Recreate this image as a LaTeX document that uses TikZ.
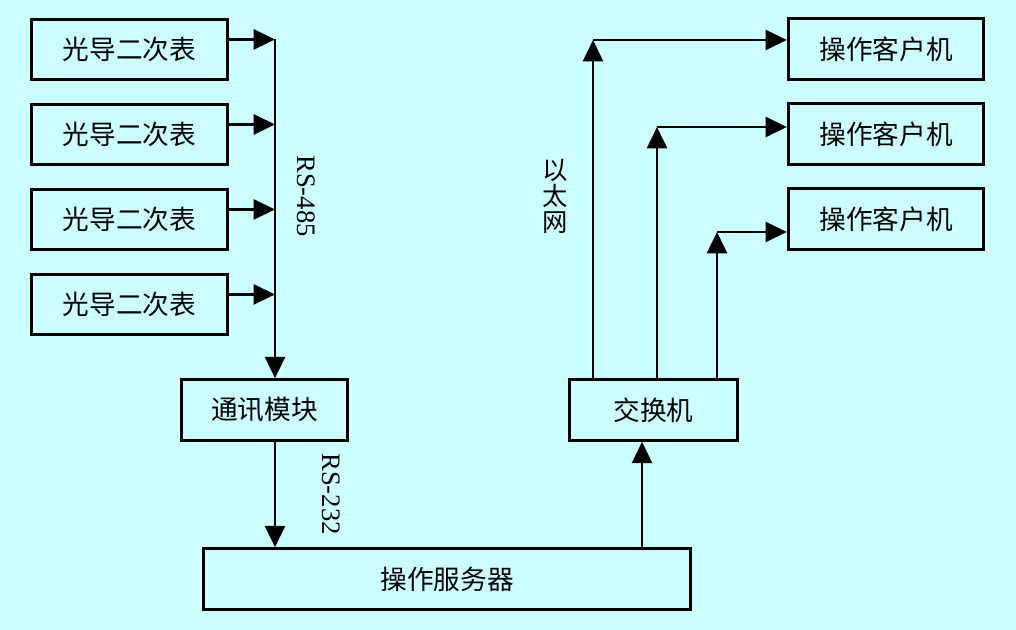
\documentclass[tikz,border=0pt]{standalone}
\usepackage{fontspec}
\setmainfont{Liberation Serif}
\newfontfamily\cjk{Noto Sans CJK SC}
\usetikzlibrary{positioning,arrows.meta}
\definecolor{bgcyan}{RGB}{204,255,255}

\begin{document}
\begin{tikzpicture}[x=1pt, y=1pt, node distance=63.75pt,
    >={Triangle[length=16pt, width=15pt]},
    box/.style={rectangle, draw, line width=2.2pt, minimum width=146.5pt, minimum height=45.5pt, text centered, font=\cjk\fontsize{20}{24}\selectfont},
    link/.style={line width=2pt},
    tag/.style={rotate=-90, font=\fontsize{20}{24}\selectfont}]

% Background
\fill[bgcyan] (0,0) rectangle (762,472.5);
\useasboundingbox (0,0) rectangle (762,472.5);

% Meters
\node[box] (m1) at (97.1,435.4) {光导二次表};
\node[box, below of=m1] (m2) {光导二次表};
\node[box, below of=m2] (m3) {光导二次表};
\node[box, below of=m3] (m4) {光导二次表};

% Modules
\node[box, minimum width=124.5pt] (comm) at (198.4,165) {通讯模块};
\node[box, minimum width=365.3pt] (server) at (335.25,38.25) {操作服务器};
\node[box, minimum width=126pt] (switch) at (490.1,165) {交换机};

% Clients
\node[box] (c1) at (664.5,435.75) {操作客户机};
\node[box, below of=c1] (c2) {操作客户机};
\node[box, below of=c2] (c3) {操作客户机};

% Labels
\node[tag] (rs485) at (229.5,325.5) {RS-485};
\node[tag] (rs232) at (248.25,102) {RS-232};
\node[font=\cjk\fontsize{19}{19.5}\selectfont, align=center] (eth) at (416.25,325.5) {以\\太\\网};

% Bus points
\coordinate (bus) at (206.25,442.9);
\coordinate (up) at (481.5,0);
\coordinate (e1) at (444.75,442.5);
\coordinate (e2) at (492.75,377.25);
\coordinate (e3) at (537.75,298.5);

% Connections
\foreach \i in {1,...,4}
  \draw[->, link] ([yshift=7.5pt]m\i.east) -- ([yshift=7.5pt]m\i.east -| bus);
\draw[->, link] (bus) -- (bus |- comm.north);
\draw[->, link] (comm.south -| bus) -- (server.north -| bus);
\draw[->, link] (server.north -| up) -- (switch.south -| up);

\foreach \i in {1,2,3} {
  \draw[->, link] (switch.north -| e\i) -- (e\i);
  \draw[->, link] (e\i) -- (c\i.west |- e\i);
}

\end{tikzpicture}
\end{document}
